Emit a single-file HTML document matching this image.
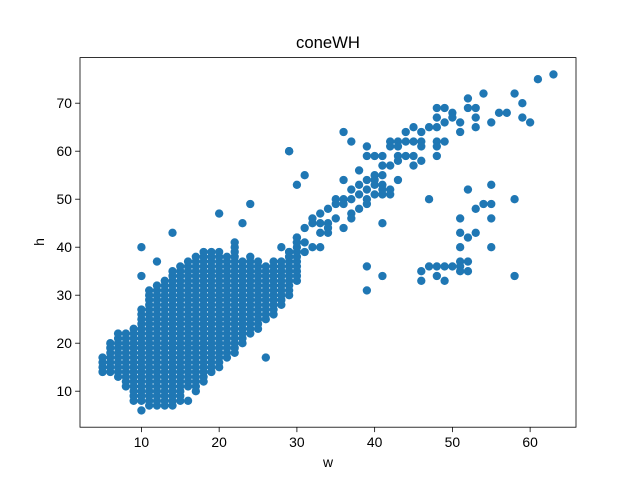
<!DOCTYPE html>
<html><head><meta charset="utf-8"><style>
body{margin:0;background:#fff}
svg{display:block;font-family:"Liberation Sans","DejaVu Sans",sans-serif}
</style></head><body>
<svg id="chart" width="640" height="480" viewBox="0 0 640 480" xmlns="http://www.w3.org/2000/svg">
<rect width="640" height="480" fill="#fff"/>
<text x="328" y="48" font-size="16.7" text-anchor="middle" fill="#000">coneWH</text>
<g id="points"></g>
<g id="xticks"></g>
<g id="yticks"></g>
<rect x="80" y="57.6" width="496" height="369.6" fill="none" stroke="#000" stroke-width="0.8"/>
<text x="328" y="467" font-size="13.9" text-anchor="middle">w</text>
<text x="0" y="0" font-size="13.9" text-anchor="middle" transform="translate(44,242) rotate(-90)">h</text>
</svg>
<script>
const colW = [5,6,7,8,9,10,11,12,13,14,15,16,17,18,19,20,21,22,23,24,25,26,27,28,29,30];
const colH = [
[14,15,16,17],
[14,15,16,17,18,19,20],
[13,14,15,16,17,18,19,20,21,22],
[11,12,13,14,15,16,17,18,19,20,21,22],
[8,9,10,11,12,13,14,15,16,17,18,19,20,21,22,23],
[6,8,9,10,11,12,13,14,15,16,17,18,19,20,21,22,23,24,25,26,27,34,40],
[7,8,9,10,11,12,13,14,15,16,17,18,19,20,21,22,23,24,25,26,27,28,29,30,31],
[7,8,9,10,11,12,13,14,15,16,17,18,19,20,21,22,23,24,25,26,27,28,29,30,31,32,37],
[7,8,9,10,11,12,13,14,15,16,17,18,19,20,21,22,23,24,25,26,27,28,29,30,31,32,33],
[7,8,9,10,11,12,13,14,15,16,17,18,19,20,21,22,23,24,25,26,27,28,29,30,31,32,33,34,35,43],
[8,9,10,11,12,13,14,15,16,17,18,19,20,21,22,23,24,25,26,27,28,29,30,31,32,33,34,35,36],
[8,11,12,13,14,15,16,17,18,19,20,21,22,23,24,25,26,27,28,29,30,31,32,33,34,35,36,37],
[10,11,12,13,14,15,16,17,18,19,20,21,22,23,24,25,26,27,28,29,30,31,32,33,34,35,36,37,38],
[12,13,14,15,16,17,18,19,20,21,22,23,24,25,26,27,28,29,30,31,32,33,34,35,36,37,38,39],
[14,15,16,17,18,19,20,21,22,23,24,25,26,27,28,29,30,31,32,33,34,35,36,37,38,39],
[15,16,17,18,19,20,21,22,23,24,25,26,27,28,29,30,31,32,33,34,35,36,37,38,39,47],
[17,18,19,20,21,22,23,24,25,26,27,28,29,30,31,32,33,34,35,36,37,38],
[18,19,20,21,22,23,24,25,26,27,28,29,30,31,32,33,34,35,36,37,38,39,40,41],
[20,21,22,23,24,25,26,27,28,29,30,31,32,33,34,35,36,37,45],
[22,23,24,25,26,27,28,29,30,31,32,33,34,35,36,37,38,49],
[23,24,25,26,27,28,29,30,31,32,33,34,35,36,37],
[17,25,26,27,28,29,30,31,32,33,34,35,36],
[26,27,28,29,30,31,32,33,34,35,36,37],
[28,29,30,31,32,33,34,35,36,37,40],
[30,31,32,33,34,35,36,37,38,39,60],
[33,34,35,36,37,38,39,40,41,42,53]
];
const sparseW = [63,61,52,54,58,59,48,49,50,52,53,48,49,50,51,53,55,56,57,59,60,51,53,47,44,45,46,48,42,43,44,45,46,48,49,39,42,43,46,48,36,37,29,39,40,41,43,44,45,48,41,42,43,45,46,38,40,41,43,31,36,39,40,41,37,38,39,40,41,42,35,36,37,38,39,40,41,42,39,38,37,37,35,36,34,33,32,34,35,36,32,33,34,33,34,31,30,30,31,32,33,31,29,29,41,
47,52,55,58,51,53,54,55,55,51,52,53,51,55,39,41,39,46,46,47,48,49,50,51,52,51,48,49,51,52,58];
const sparseH = [76,75,71,72,72,70,69,69,68,69,69,67,66,67,66,67,66,68,68,67,66,64,65,65,64,65,64,65,62,62,62,62,62,62,62,61,61,61,61,61,64,62,60,59,59,59,59,59,59,59,57,57,58,57,58,56,55,55,54,55,54,54,54,53,52,53,52,53,52,52,50,50,50,51,50,51,51,51,49,48,47,46,49,49,48,47,46,45,46,44,45,45,44,43,43,44,42,41,41,40,40,39,39,38,45,
50,52,53,50,46,48,49,49,46,43,42,43,40,40,36,34,31,35,33,36,36,36,36,37,37,36,34,33,35,35,34];

const X0=80,X1=576,Y0=57.6,Y1=427.2,XMIN=2.1,XMAX=65.9,YMIN=2.5,YMAX=79.5;
const xs=v=>X0+(v-XMIN)/(XMAX-XMIN)*(X1-X0);
const ys=v=>Y1-(v-YMIN)/(YMAX-YMIN)*(Y1-Y0);
const NS="http://www.w3.org/2000/svg";
const pg=document.getElementById('points');
function dot(w,h){
  const c=document.createElementNS(NS,'circle');
  c.setAttribute('cx',xs(w));c.setAttribute('cy',ys(h));c.setAttribute('r',4.17);
  c.setAttribute('fill','#1f77b4');
  
  
  pg.appendChild(c);
}
colW.forEach((w,i)=>colH[i].forEach(h=>dot(w,h)));
sparseW.forEach((w,i)=>dot(w,sparseH[i]));

const xTicks=[10,20,30,40,50,60];
const yTicks=[10,20,30,40,50,60,70];
const xg=document.getElementById('xticks'),yg=document.getElementById('yticks');
xTicks.forEach(t=>{
  const x=xs(t);
  const l=document.createElementNS(NS,'line');
  l.setAttribute('x1',x);l.setAttribute('x2',x);l.setAttribute('y1',Y1);l.setAttribute('y2',Y1+4.9);
  l.setAttribute('stroke','#000');l.setAttribute('stroke-width','0.8');
  
  
  xg.appendChild(l);
  const tx=document.createElementNS(NS,'text');
  tx.setAttribute('x',x);tx.setAttribute('y',Y1+20);tx.setAttribute('font-size','13.9');tx.setAttribute('text-anchor','middle');
  tx.textContent=t;
  
  
  xg.appendChild(tx);
});
yTicks.forEach(t=>{
  const y=ys(t);
  const l=document.createElementNS(NS,'line');
  l.setAttribute('x1',X0-4.9);l.setAttribute('x2',X0);l.setAttribute('y1',y);l.setAttribute('y2',y);
  l.setAttribute('stroke','#000');l.setAttribute('stroke-width','0.8');
  
  
  yg.appendChild(l);
  const tx=document.createElementNS(NS,'text');
  tx.setAttribute('x',X0-8);tx.setAttribute('y',y+5);tx.setAttribute('font-size','13.9');tx.setAttribute('text-anchor','end');
  tx.textContent=t;
  
  
  yg.appendChild(tx);
});
</script>
</body></html>
